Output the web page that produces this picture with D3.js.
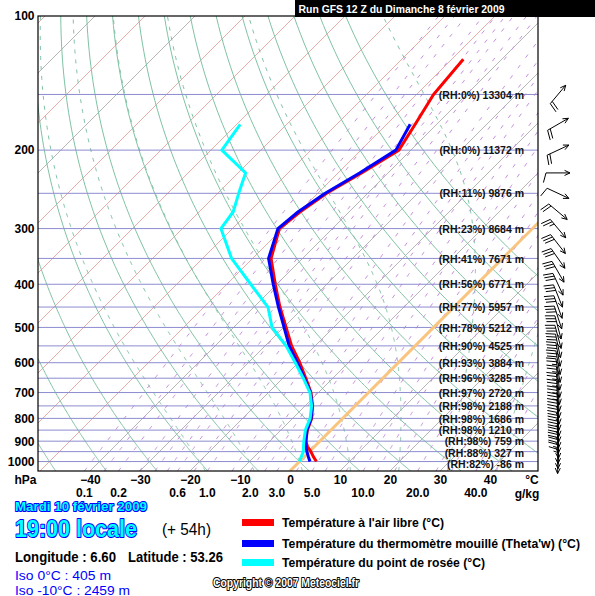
<!DOCTYPE html>
<html><head><meta charset="utf-8">
<script src="https://cdn.jsdelivr.net/npm/d3@7"></script>
<style>body{margin:0;background:#fff}svg{display:block}</style>
</head><body>
<svg id="c" width="595" height="596"></svg>
<script>
// ---------- DATA ----------
const pressureTicks = [100,200,300,400,500,600,700,800,900,1000];
const isobarLevels = [150,200,250,300,350,400,450,500,550,600,650,700,750,800,850,900,950,1000];
const temperatureTicks = [-40,-30,-20,-10,0,10,20,30,40];
const mixingRatioLabels = [0.1,0.2,0.6,1.0,2.0,3.0,5.0,10.0,20.0,40.0];
const mixingRatioLines = [0.1,0.15,0.2,0.3,0.4,0.5,0.6,0.8,1,1.5,2,2.5,3,4,5,6,8,10,12,15,20,25,30,40,50];
const isothermValues = [-150,-140,-130,-120,-110,-100,-90,-80,-70,-60,-50,-40,-30,-20,-10,10,20,30,40,50];
const dryAdiabatValues = [-60,-50,-40,-30,-20,-10,0,10,20,30,40,50,60,70,80,90,100];
const moistAdiabatValues = [-20,-10,0,10,20,30,40];

const tempPressure = [1000,975,950,925,900,850,800,750,700,650,600,550,500,450,400,350,300,275,250,225,200,175,150,125];
const temperature  = [3.4,1.8,0.3,-1.4,-2.8,-4.7,-6.2,-8.5,-11.5,-15.4,-19.7,-24.7,-29.5,-34.8,-40.3,-46.3,-50.6,-49.8,-48.2,-45.3,-42.4,-44.3,-46.6,-47.7];
const humPressure  = [1000,975,950,925,900,850,800,750,700,650,600,550,500,450,400,350,300,275,250,225,200,175];
const wetBulb      = [2.1,0.8,-0.5,-1.7,-2.8,-4.8,-6.3,-8.6,-11.6,-15.7,-20.2,-25.2,-29.9,-35.1,-40.7,-46.8,-50.9,-50.2,-48.5,-45.7,-43.0,-45.3];
const dewPoint     = [0.0,-0.6,-1.2,-2.2,-3.2,-5.1,-6.5,-8.7,-11.7,-15.9,-20.6,-25.8,-32.3,-37.2,-45.2,-54.2,-62.3,-63.2,-65.8,-68.5,-77.8,-79.3];

const labelLevels = [150,200,250,300,350,400,450,500,550,600,650,700,750,800,850,900,950,1000];
const relHumidity = [0,0,11,23,41,56,77,78,90,93,96,97,98,98,98,98,88,82];
const geoHeight   = [13304,11372,9876,8684,7671,6771,5957,5212,4525,3884,3285,2720,2188,1686,1210,759,327,-86];

const windPressure  = [150,175,200,225,250,275,300,325,350,375,400,425,450,475,500,525,550,575,600,625,650,675,700,725,750,775,800,825,850,875,900,925,950,975,1000];
const windDirection = [220,240,245,270,295,310,320,322,325,330,335,338,340,342,345,345,348,350,350,350,352,352,353,354,355,355,356,356,357,357,358,358,0,0,2];
const windSpeed     = [20,20,20,10,10,20,25,30,30,30,30,30,30,30,30,30,30,30,30,25,25,25,25,25,25,20,20,20,20,20,20,20,20,15,15];

const legendItems = ["Température à l'air libre (°C)","Température du thermomètre mouillé (Theta'w) (°C)","Température du point de rosée (°C)"];

// ---------- SCALES ----------
const P = {left:38,right:538,top:16,bottom:471};
const y = d3.scaleLog().domain([100,1050]).range([P.top,P.bottom]);
const xT = d3.scaleLinear().domain([-50,50]).range([40,540]);
const X = (T,p) => xT(T) + (P.bottom - y(p));
const pGrid = d3.range(1050, 99, -5);
const FONT = "'Liberation Sans', Arial, sans-serif";

const svg = d3.select("#c");
svg.append("rect").attr("width",595).attr("height",596).attr("fill","#fff");
svg.append("defs").append("clipPath").attr("id","plot")
  .append("rect").attr("x",P.left).attr("y",P.top).attr("width",P.right-P.left).attr("height",P.bottom-P.top);

const line = d3.line().x(d=>X(d.T,d.p)).y(d=>y(d.p));
const grid = svg.append("g").attr("clip-path","url(#plot)").attr("fill","none");

// isotherms
isothermValues.forEach(T=>{
  const salmon = (T<=-50) && !(T<=-110 && (T/10)%2!==0);
  grid.append("path").attr("d", line([{T,p:1050},{T,p:100}]))
    .attr("stroke", salmon?"#e6aea6":"#b6b6b6").attr("stroke-width",1);
});
// dry adiabats
dryAdiabatValues.forEach(th=>{
  const pts = pGrid.map(p=>({p, T:(th+273.15)*Math.pow(p/1000,0.2857)-273.15}));
  grid.append("path").attr("d",line(pts)).attr("stroke","#80c2a4").attr("stroke-width",1);
});
// moist adiabats
function esat(Tc){return 6.112*Math.exp(17.67*Tc/(Tc+243.5));}
function moist(tw){
  const Rd=287.04,cp=1005.7,Lv=2.501e6,eps=0.622;
  const f=(T,p)=>{const es=esat(T-273.15);const rs=eps*es/(p-es);return (Rd*T+Lv*rs)/(p*(cp+Lv*Lv*rs*eps/(Rd*T*T)));};
  const run=(dp,stop)=>{const out=[];let T=tw+273.15,p=1000;
    while(dp<0?p>stop:p<stop){const k1=f(T,p);const k2=f(T+k1*dp/2,p+dp/2);T+=k2*dp;p+=dp;out.push({p,T:T-273.15});}
    return out;};
  return run(2,1050).reverse().concat([{p:1000,T:tw}],run(-2,100));
}
moistAdiabatValues.forEach(tw=>{
  grid.append("path").attr("d",line(moist(tw))).attr("stroke","#80c2a4").attr("stroke-width",1).attr("stroke-dasharray","4,6");
});
// mixing ratio
function tdFromW(w,p){const e=w*p/(622+w);const l=Math.log(e/6.112);return 243.5*l/(17.67-l);}
mixingRatioLines.forEach(w=>{
  const pts=pGrid.map(p=>({p,T:tdFromW(w,p)}));
  grid.append("path").attr("d",line(pts)).attr("stroke","#c68ee0").attr("stroke-width",1).attr("stroke-dasharray","4,9");
});
// isobars
isobarLevels.forEach(p=>{
  grid.append("line").attr("x1",P.left).attr("x2",P.right).attr("y1",y(p)).attr("y2",y(p))
    .attr("stroke","#8c8cd0").attr("stroke-width",1);
});
// 0°C isotherm
grid.append("path").attr("d",line([{T:0,p:1050},{T:0,p:100}])).attr("stroke","#f9c47e").attr("stroke-width",3);

// profiles
const prof = svg.append("g").attr("clip-path","url(#plot)").attr("fill","none").attr("stroke-width",3).attr("stroke-linejoin","round");
prof.append("path").attr("d",line(tempPressure.map((p,i)=>({p,T:temperature[i]})))).attr("stroke","#ff0000");
prof.append("path").attr("d",line(humPressure.map((p,i)=>({p,T:wetBulb[i]})))).attr("stroke","#0000ff");
prof.append("path").attr("d",line(humPressure.map((p,i)=>({p,T:dewPoint[i]})))).attr("stroke","#00ffff");

// RH / height labels (the three lowest are nudged apart as in the reference)
const labelNudge = p => p===1000 ? 3 : p===950 ? 1.5 : 0.5;
labelLevels.forEach((p,i)=>{
  svg.append("text").attr("x",524).attr("y",y(p)+labelNudge(p)).attr("dy","0.35em").attr("text-anchor","end")
    .attr("font-family",FONT).attr("font-weight","bold").attr("font-size","10.5px").attr("fill","#111")
    .text(`(RH:${relHumidity[i]}%) ${geoHeight[i]} m`);
});

// frame
svg.append("rect").attr("x",P.left).attr("y",P.top).attr("width",P.right-P.left).attr("height",P.bottom-P.top)
  .attr("fill","none").attr("stroke","#000").attr("stroke-width",1.2);

// axes
const axL = svg.append("g").attr("transform",`translate(${P.left},0)`)
  .call(d3.axisLeft(y).tickValues(pressureTicks).tickFormat(d3.format("d")).tickSize(0).tickPadding(3.5));
axL.select(".domain").remove();
axL.selectAll("text").attr("font-family",FONT).attr("font-weight","bold").attr("font-size","12px").attr("fill","#000");
const axB = svg.append("g").attr("transform",`translate(0,${P.bottom})`)
  .call(d3.axisBottom(xT).tickValues(temperatureTicks).tickFormat(d3.format("d")).tickSize(0).tickPadding(4));
axB.select(".domain").remove();
axB.selectAll("text").attr("font-family",FONT).attr("font-weight","bold").attr("font-size","12px").attr("fill","#000");

const bold12 = s=>s.attr("font-family",FONT).attr("font-weight","bold").attr("font-size","12px").attr("fill","#000");
bold12(svg.append("text").attr("x",14.5).attr("y",483.5).text("hPa"));
bold12(svg.append("text").attr("x",532).attr("y",483.5).attr("text-anchor","middle").text("°C"));
mixingRatioLabels.forEach(w=>{
  bold12(svg.append("text").attr("x",xT(tdFromW(w,1050))).attr("y",497).attr("text-anchor","middle").text(d3.format(".1f")(w)));
});
bold12(svg.append("text").attr("x",527).attr("y",497.5).attr("text-anchor","middle").text("g/kg"));

// wind barbs
const wb = svg.append("g").attr("stroke","#000").attr("stroke-width",1).attr("fill","none");
windPressure.forEach((p,i)=>{
  const cy=y(p), cx=558, L=24;
  const b=(windDirection[i]+180)*Math.PI/180;
  const dx=Math.sin(b), dy=-Math.cos(b);
  const hx=cx+dx*L/2, hy=cy+dy*L/2, tx=cx-dx*L/2, ty=cy-dy*L/2;
  const rot=(vx,vy,a)=>[vx*Math.cos(a)-vy*Math.sin(a), vx*Math.sin(a)+vy*Math.cos(a)];
  const aa=25*Math.PI/180, ah=6;
  const [b1x,b1y]=rot(-dx,-dy,aa), [b2x,b2y]=rot(-dx,-dy,-aa);
  let d=`M${tx},${ty}L${hx},${hy}M${hx+b1x*ah},${hy+b1y*ah}L${hx},${hy}L${hx+b2x*ah},${hy+b2y*ah}`;
  const fa=15*Math.PI/180;
  const fx=-dy*Math.cos(fa)-dx*Math.sin(fa), fy=dx*Math.cos(fa)-dy*Math.sin(fa);
  const s=windSpeed[i]; const n=Math.floor(s/10), half=(s%10)>=5;
  let pos=0;
  for(let k=0;k<n;k++){const sx=tx+dx*pos, sy=ty+dy*pos; d+=`M${sx},${sy}L${sx+fx*10},${sy+fy*10}`; pos+=3;}
  if(half){const sx=tx+dx*pos, sy=ty+dy*pos; d+=`M${sx},${sy}L${sx+fx*5},${sy+fy*5}`;}
  wb.append("path").attr("d",d);
});

// title bar
svg.append("rect").attr("x",295).attr("y",0).attr("width",300).attr("height",17).attr("fill","#000");
svg.append("text").attr("x",298.5).attr("y",12.5).attr("font-family",FONT).attr("font-weight","bold").attr("font-size","11px")
  .attr("fill","#fff").attr("textLength",206).attr("lengthAdjust","spacingAndGlyphs").text("Run GFS 12 Z du Dimanche 8 février 2009");

// bottom info
const outlined=(t,size,len,x,yy)=>svg.append("text").attr("x",x).attr("y",yy).attr("font-family",FONT).attr("font-weight","bold")
  .attr("font-size",size+"px").attr("fill","#00ffff").attr("stroke","#0000ff").attr("stroke-width",2).attr("paint-order","stroke")
  .attr("stroke-linejoin","round").attr("textLength",len).attr("lengthAdjust","spacingAndGlyphs").text(t);
outlined("Mardi 10 février 2009",13.5,132,15,510.5);
outlined("19:00 locale",24,122,15,537);
svg.append("text").attr("x",162).attr("y",534.5).attr("font-family",FONT).attr("font-size","16px").attr("fill","#000")
  .attr("textLength",49).attr("lengthAdjust","spacingAndGlyphs").text("(+ 54h)");
const plain=(t,x,yy,len,opts)=>svg.append("text").attr("x",x).attr("y",yy).attr("font-family",FONT)
  .attr("font-weight",opts.w||"normal").attr("font-size",opts.s+"px").attr("fill",opts.c||"#000")
  .attr("textLength",len).attr("lengthAdjust","spacingAndGlyphs").text(t);
plain("Longitude : 6.60",15,561.5,101,{w:"bold",s:14});
plain("Latitude : 53.26",128,561.5,95,{w:"bold",s:14});
plain("Iso 0°C : 405 m",15,579.5,96,{s:12.5,c:"#0000ff"});
plain("Iso -10°C : 2459 m",15,594.5,115,{s:12.5,c:"#0000ff"});

const legendColors=["#ff0000","#0000ff","#00ffff"];
const legendY=[519,540,559];
const legendLen=[162,298,203];
legendItems.forEach((t,i)=>{
  svg.append("rect").attr("x",242).attr("y",legendY[i]).attr("width",32).attr("height",7).attr("fill",legendColors[i]);
  plain(t,282,legendY[i]+8,legendLen[i],{w:"bold",s:12.5});
});
svg.append("text").attr("x",213).attr("y",587).attr("font-family",FONT).attr("font-weight","bold").attr("font-size","12px")
  .attr("fill","#fff").attr("stroke","#000").attr("stroke-width",2).attr("paint-order","stroke").attr("stroke-linejoin","round")
  .attr("textLength",146).attr("lengthAdjust","spacingAndGlyphs").text("Copyright © 2007 Meteociel.fr");
</script>
</body></html>
